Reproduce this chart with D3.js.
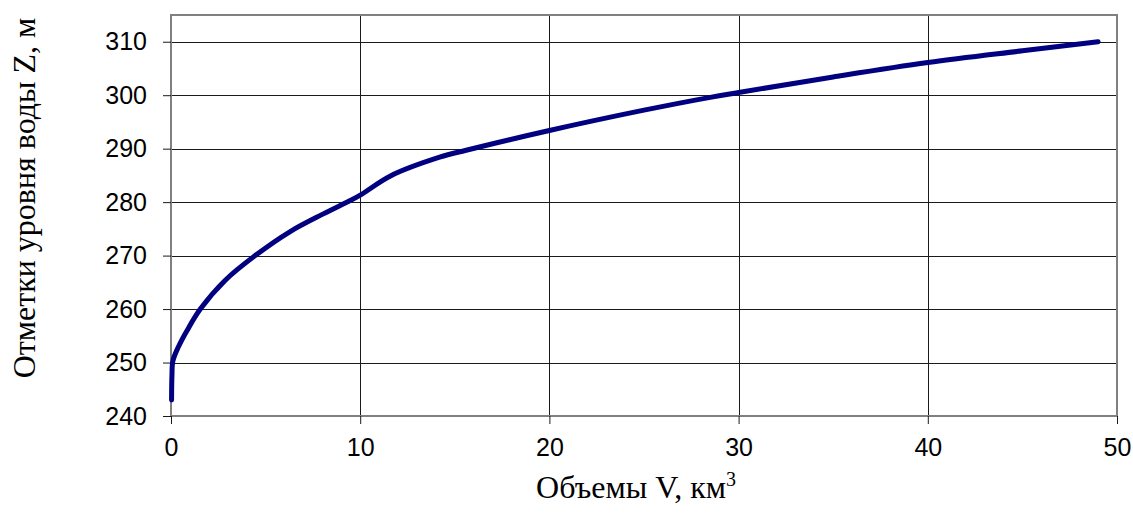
<!DOCTYPE html>
<html><head><meta charset="utf-8">
<script src="https://cdn.jsdelivr.net/npm/d3@7"></script>
<style>body{margin:0;background:#fff}</style>
</head><body><svg id="c" width="1133" height="513"></svg>
<script>
const volumes = [0.03, 0.05, 0.1, 0.4, 0.85, 1.55, 2.87, 4.45, 6.3, 8.05, 9.47, 10, 11.6, 14.2, 15.6, 20, 25, 28.5, 30, 35, 40, 45, 49];
const levels  = [243, 247.5, 250.3, 253, 256, 260, 265.4, 270, 274.5, 277.8, 280.3, 281.3, 284.9, 288.4, 289.7, 293.4, 297.2, 299.6, 300.5, 303.4, 306.1, 308.3, 310];
const xTicks = [0, 10, 20, 30, 40, 50];
const yTicks = [240, 250, 260, 270, 280, 290, 300, 310];

const svg = d3.select('#c');
const L = 171, R = 1117, T = 15, B = 416;
const x = d3.scaleLinear().domain([0, 50]).range([L, R]);
const y = d3.scaleLinear().domain([240, 315]).range([B, T]);

// grid
svg.append('g').selectAll('line').data(xTicks.slice(1, -1)).join('line')
  .attr('x1', d => Math.round(x(d)) + 0.5).attr('x2', d => Math.round(x(d)) + 0.5)
  .attr('y1', T).attr('y2', B).attr('stroke', '#1a1a1a').attr('stroke-width', 1);
svg.append('g').selectAll('line').data(yTicks.slice(1)).join('line')
  .attr('y1', d => Math.round(y(d)) + 0.5).attr('y2', d => Math.round(y(d)) + 0.5)
  .attr('x1', L).attr('x2', R).attr('stroke', '#1a1a1a').attr('stroke-width', 1);

// frame
svg.append('rect').attr('x', L).attr('y', T).attr('width', R - L).attr('height', B - T)
  .attr('fill', 'none').attr('stroke', '#808080').attr('stroke-width', 2);

// axes
const ax = svg.append('g').attr('transform', `translate(0,${B})`)
  .call(d3.axisBottom(x).tickValues(xTicks).tickSize(8).tickPadding(14).tickFormat(d3.format('d')));
const ay = svg.append('g').attr('transform', `translate(${L},0)`)
  .call(d3.axisLeft(y).tickValues(yTicks).tickSize(8).tickPadding(16).tickFormat(d3.format('d')));
[ax, ay].forEach(g => {
  g.select('.domain').remove();
  g.selectAll('.tick line').attr('stroke', '#1a1a1a');
  g.selectAll('.tick text').attr('fill', '#000')
    .style('font-family', '"Liberation Sans", Arial, sans-serif').style('font-size', '25px');
});

// curve
const pts = volumes.map((v, i) => [v, levels[i]]);
svg.append('path').datum(pts)
  .attr('d', d3.line().x(d => x(d[0])).y(d => y(d[1])).curve(d3.curveCatmullRom.alpha(0.5)))
  .attr('fill', 'none').attr('stroke', '#000080').attr('stroke-width', 5)
  .attr('stroke-linecap', 'round').attr('stroke-linejoin', 'round');

// titles
const serif = '"Liberation Serif", "Times New Roman", serif';
const xt = svg.append('text').attr('x', 636).attr('y', 498).attr('text-anchor', 'middle')
  .style('font-family', serif).style('font-size', '32px').attr('fill', '#000');
xt.append('tspan').text('Объемы V, км');
xt.append('tspan').text('3').attr('dy', -12).style('font-size', '20px');

svg.append('text').attr('transform', 'translate(35,198) rotate(-90)').attr('text-anchor', 'middle')
  .style('font-family', serif).style('font-size', '32px').attr('fill', '#000')
  .text('Отметки уровня воды Z, м');
</script></body></html>
